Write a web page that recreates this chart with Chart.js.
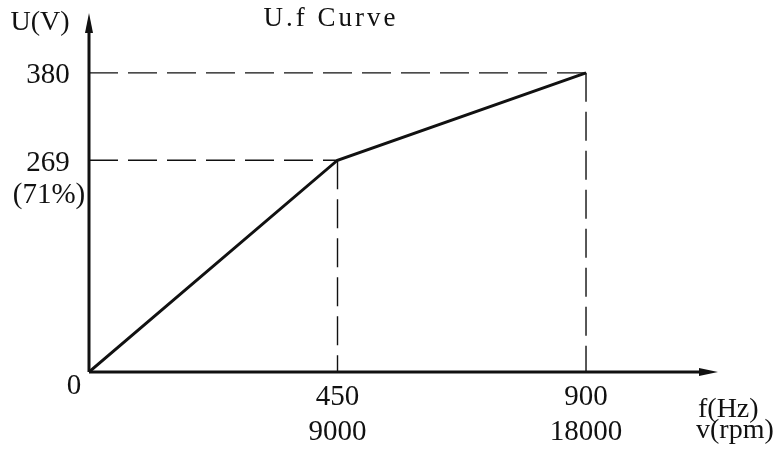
<!DOCTYPE html>
<html>
<head>
<meta charset="utf-8">
<script src="https://cdn.jsdelivr.net/npm/chart.js@4"></script>
<style>
  html, body { margin: 0; padding: 0; background: #ffffff; }
  #wrap { width: 782px; height: 453px; }
</style>
</head>
<body>
<div id="wrap"><canvas id="c" width="782" height="453"></canvas></div>
<script>
// ---- data ----
const freqHz = [0, 450, 900];          // f (Hz)
const speedRpm = [0, 9000, 18000];     // v (rpm)
const voltage = [0, 269, 380];         // U (V)
const voltageLabels = ['0', '269', '380'];
const voltageNotes = ['', '(71%)', ''];
const chartTitle = 'U.f Curve';
const yAxisLabel = 'U(V)';
const xAxisLabels = ['f(Hz)', 'v(rpm)'];

const curve = freqHz.map((f, i) => ({ x: f, y: voltage[i] }));
const guide1 = [{ x: 0, y: voltage[1] }, { x: freqHz[1], y: voltage[1] }];
const guide1v = [{ x: freqHz[1], y: voltage[1] }, { x: freqHz[1], y: 0 }];
const guide2 = [{ x: 0, y: voltage[2] }, { x: freqHz[2], y: voltage[2] }];
const guide2v = [{ x: freqHz[2], y: voltage[2] }, { x: freqHz[2], y: 0 }];

const FONT = '"Liberation Serif", "DejaVu Serif", serif';
const INK = '#111111';

const dashed = (data) => ({
  data, borderColor: INK, borderWidth: 1.4, borderDash: [29, 10],
  pointRadius: 0, fill: false, tension: 0, order: 2
});

const decor = {
  id: 'decor',
  afterDatasetsDraw(chart) {
    const { ctx, chartArea: a, scales: { x, y } } = chart;
    const ox = x.getPixelForValue(0), oy = y.getPixelForValue(0);
    ctx.save();
    // axes with arrows
    ctx.strokeStyle = INK; ctx.fillStyle = INK; ctx.lineWidth = 3; ctx.lineCap = 'butt';
    ctx.beginPath();
    ctx.moveTo(ox, oy); ctx.lineTo(a.right - 12, oy);
    ctx.moveTo(ox, oy); ctx.lineTo(ox, a.top + 14);
    ctx.stroke();
    ctx.beginPath();
    ctx.moveTo(a.right, oy); ctx.lineTo(a.right - 19, oy - 4); ctx.lineTo(a.right - 19, oy + 4); ctx.closePath();
    ctx.fill();
    ctx.beginPath();
    ctx.moveTo(ox, a.top); ctx.lineTo(ox - 4, a.top + 20); ctx.lineTo(ox + 4, a.top + 20); ctx.closePath();
    ctx.fill();

    // text
    ctx.fillStyle = INK;
    ctx.textBaseline = 'middle';
    ctx.font = '29px ' + FONT;
    ctx.textAlign = 'center';
    // y labels
    for (let i = 1; i < voltage.length; i++) {
      const py = y.getPixelForValue(voltage[i]);
      ctx.fillText(voltageLabels[i], ox - 41, py + 3);
      if (voltageNotes[i]) ctx.fillText(voltageNotes[i], ox - 40, py + 35);
    }
    // origin label
    ctx.fillText(voltageLabels[0], ox - 15, oy + 14);
    // x labels
    for (let i = 1; i < freqHz.length; i++) {
      const px = x.getPixelForValue(freqHz[i]);
      ctx.fillText(String(freqHz[i]), px, oy + 25);
      ctx.fillText(String(speedRpm[i]), px, oy + 60);
    }
    // axis titles
    ctx.font = '28px ' + FONT;
    ctx.fillText(yAxisLabel, ox - 49, a.top + 10);
    ctx.textAlign = 'left';
    ctx.fillText(xAxisLabels[0], a.right - 20, oy + 38);
    ctx.fillText(xAxisLabels[1], a.right - 22, oy + 59);
    // chart title
    ctx.font = '27px ' + FONT;
    ctx.textAlign = 'center';
    try { ctx.letterSpacing = '3px'; } catch (e) {}
    ctx.fillText(chartTitle, 331, a.top + 6);
    ctx.restore();
  }
};

new Chart(document.getElementById('c'), {
  type: 'line',
  data: {
    datasets: [
      { data: curve, borderColor: INK, borderWidth: 3, pointRadius: 0, fill: false, tension: 0, order: 1 },
      dashed(guide1), dashed(guide1v), dashed(guide2), dashed(guide2v)
    ]
  },
  options: {
    responsive: false,
    animation: false,
    layout: { padding: { left: 89, right: 64, top: 13, bottom: 81 } },
    plugins: { legend: { display: false }, tooltip: { enabled: false }, title: { display: false } },
    scales: {
      x: { type: 'linear', display: false, min: 0, max: 1139 },
      y: { type: 'linear', display: false, min: 0, max: 456 }
    }
  },
  plugins: [decor]
});
</script>
</body>
</html>
